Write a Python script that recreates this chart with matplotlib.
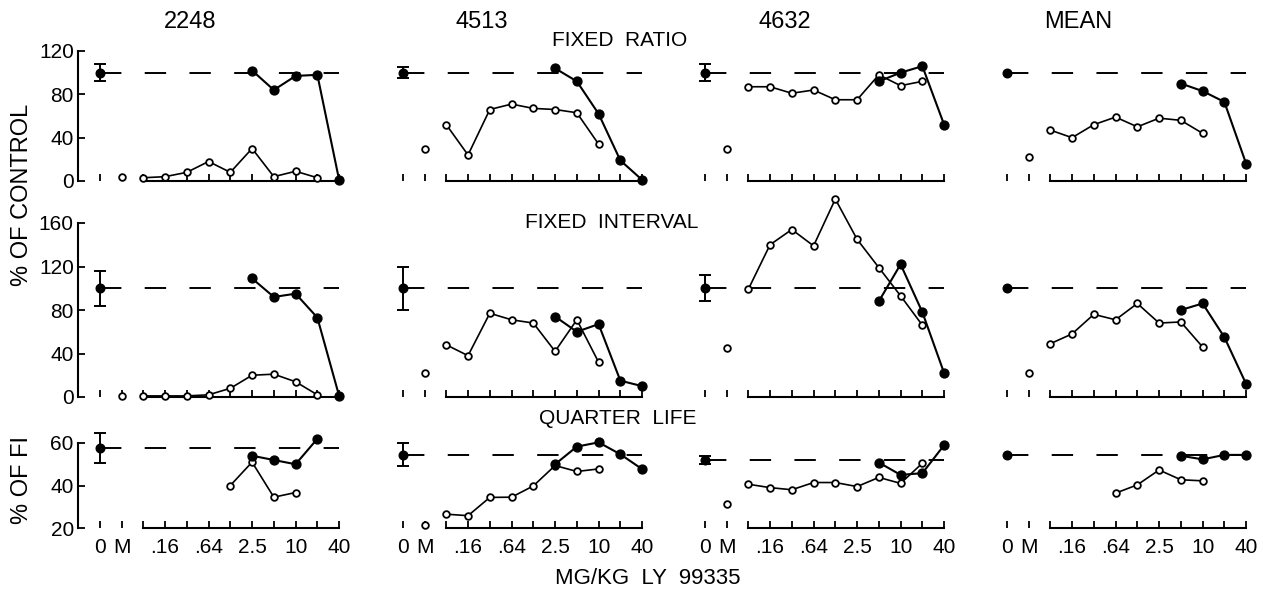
import numpy as np
import matplotlib
matplotlib.use('Agg')
import matplotlib.pyplot as plt

plt.rcParams['font.family'] = ['Liberation Sans', 'DejaVu Sans']

# ---------------- data ----------------
subjects = ['2248', '4513', '4632', 'MEAN']
schedules = ['FIXED  RATIO', 'FIXED  INTERVAL', 'QUARTER  LIFE']
dose_labels = ['.08', '.16', '.32', '.64', '1.25', '2.5', '5', '10', '20', '40']
shown_dose_labels = ['.16', '.64', '2.5', '10', '40']
N = None

# Fixed ratio (% of control)
fr_control = [100, 100, 100, 100]
fr_err = [8, 5, 8, None]
fr_m = [4, 30, 30, 22]
fr_open = [
    [3, 4, 8, 18, 8, 30, 4, 9, 3, N],
    [52, 24, 66, 71, 67, 66, 63, 34, N, N],
    [87, 87, 81, 84, 75, 75, 98, 88, 92, N],
    [47, 40, 52, 59, 50, 58, 56, 44, N, N],
]
fr_filled = [
    [N, N, N, N, N, 102, 84, 97, 98, 1],
    [N, N, N, N, N, 104, 92, 62, 19, 1],
    [N, N, N, N, N, N, 92, 100, 106, 52],
    [N, N, N, N, N, N, 90, 83, 73, 16],
]

# Fixed interval (% of control)
fi_control = [100, 100, 100, 100]
fi_err = [16, 20, 12, None]
fi_m = [1, 22, 45, 22]
fi_open = [
    [1, 1, 1, 2, 8, 20, 21, 14, 2, N],
    [48, 38, 77, 71, 68, 42, 71, 32, N, N],
    [99, 140, 154, 139, 182, 145, 119, 93, 66, N],
    [49, 58, 76, 71, 86, 68, 69, 46, N, N],
]
fi_filled = [
    [N, N, N, N, N, 109, 92, 95, 73, 1],
    [N, N, N, N, N, 74, 60, 67, 15, 10],
    [N, N, N, N, N, N, 88, 122, 78, 22],
    [N, N, N, N, N, N, 80, 86, 55, 12],
]

# Quarter life (% of FI)
ql_control = [57.5, 54.5, 52, 54.5]
ql_err = [7, 5.5, 2, None]
ql_m = [N, 21.5, 31.4, N]
ql_open = [
    [N, N, N, N, 40, 51, 34.5, 36.7, N, N],
    [26.5, 25.8, 34.4, 34.5, 39.8, 49.4, 46.6, 47.8, N, N],
    [40.6, 39, 38, 41.4, 41.4, 39.5, 43.8, 41, 50.5, N],
    [N, N, N, 36.4, 40.3, 47.3, 42.7, 42.2, N, N],
]
ql_filled = [
    [N, N, N, N, N, 54, 52, 50, 62, N],
    [N, N, N, N, N, 50, 58.3, 60.3, 54.7, 47.7],
    [N, N, N, N, N, N, 50.8, 45, 45.8, 59],
    [N, N, N, N, N, N, 54, 52.3, 54.4, 54.4],
]

# ---------------- layout ----------------
W, H = 1263, 597
fig = plt.figure(figsize=(W / 100, H / 100), dpi=100)

x_ctrl, x_m = -2, -1
x_dose = np.arange(len(dose_labels))
tick_pos = [x_ctrl, x_m] + list(x_dose)
tick_lab = ['0', 'M'] + [d if d in shown_dose_labels else '' for d in dose_labels]

col_left = [78, 381, 683, 985]
col_w = 272
rows = [
    dict(top=51, bot=181, ylim=(0, 120), yticks=[0, 40, 80, 120],
         control=fr_control, err=fr_err, m=fr_m, op=fr_open, fl=fr_filled),
    dict(top=223, bot=397, ylim=(0, 160), yticks=[0, 40, 80, 120, 160],
         control=fi_control, err=fi_err, m=fi_m, op=fi_open, fl=fi_filled),
    dict(top=443, bot=528, ylim=(20, 60), yticks=[20, 40, 60],
         control=ql_control, err=ql_err, m=ql_m, op=ql_open, fl=ql_filled),
]

LW = 1.2
for r, spec in enumerate(rows):
    for c in range(4):
        ax = fig.add_axes([col_left[c] / W, 1 - spec['bot'] / H,
                           col_w / W, (spec['bot'] - spec['top']) / H])
        ax.set_xlim(-3, 9.5)
        ax.set_ylim(*spec['ylim'])
        ax.patch.set_alpha(0)
        for s in ['top', 'right']:
            ax.spines[s].set_visible(False)
        ax.spines['bottom'].set_bounds(x_dose[0], x_dose[-1])
        ax.spines['bottom'].set_linewidth(1.5)
        ax.set_xticks(tick_pos)
        ax.tick_params(axis='x', direction='in', length=5, width=1.3,
                       labelsize=15, pad=7)
        if r == 2:
            ax.set_xticklabels(tick_lab)
        else:
            ax.set_xticklabels([])
        if c == 0:
            ax.spines['left'].set_linewidth(1.5)
            ax.set_yticks(spec['yticks'])
            ax.tick_params(axis='y', direction='in', length=5, width=1.3,
                           labelsize=15, pad=3)
        else:
            ax.spines['left'].set_visible(False)
            ax.set_yticks([])

        ctrl = spec['control'][c]
        # dashed control reference line
        ln, = ax.plot([x_ctrl, x_dose[-1]], [ctrl, ctrl], color='k', lw=1.4,
                      clip_on=False, zorder=1)
        ln.set_dashes([11, 12])
        # control mean +- error
        e = spec['err'][c]
        if e is not None:
            ax.errorbar([x_ctrl], [ctrl], yerr=[e], fmt='o', color='k', ms=6.2,
                        capsize=4, elinewidth=1.4, capthick=1.4, clip_on=False,
                        zorder=4)
        else:
            ax.plot([x_ctrl], [ctrl], 'o', color='k', ms=6.2, clip_on=False, zorder=4)
        # M point
        mv = spec['m'][c]
        if mv is not None:
            ax.plot([x_m], [mv], 'o', mfc='white', mec='k', mew=1.3, ms=4.8,
                    clip_on=False, zorder=4)
        op = np.array(spec['op'][c], dtype=float)
        fl = np.array(spec['fl'][c], dtype=float)
        ax.plot(x_dose, op, '-o', color='k', lw=LW, mfc='white', mec='k',
                mew=1.3, ms=4.8, clip_on=False, zorder=3)
        ax.plot(x_dose, fl, '-o', color='k', lw=1.5, ms=6.4, clip_on=False,
                zorder=3)


def ftext(x, y, s, **kw):
    fig.text(x / W, 1 - y / H, s, ha='center', va='center', **kw)


for c, name in enumerate(subjects):
    ftext([190, 482, 785, 1078][c], 22, name, fontsize=17)
ftext(620, 41, schedules[0], fontsize=15)
ftext(612, 222, schedules[1], fontsize=15)
ftext(618, 419, schedules[2], fontsize=15)
ftext(648, 578, 'MG/KG  LY  99335', fontsize=16)
ftext(22, 195, '% OF CONTROL', fontsize=17, rotation=90)
ftext(22, 480, '% OF FI', fontsize=17, rotation=90)

fig.savefig('out.png', dpi=100)
